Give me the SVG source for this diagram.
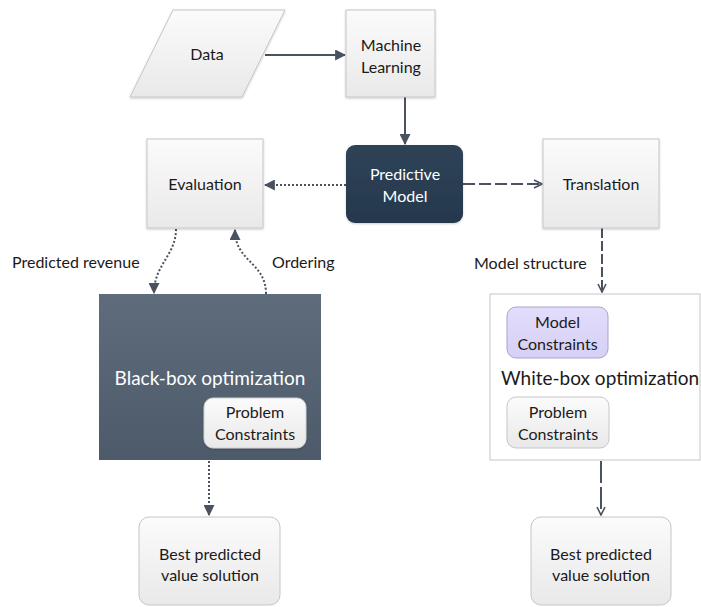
<svg xmlns="http://www.w3.org/2000/svg" width="701" height="607" viewBox="0 0 701 607">
<defs>
<linearGradient id="gGray" x1="0" y1="0" x2="0" y2="1"><stop offset="0" stop-color="#fbfbfb"/><stop offset="1" stop-color="#e9e9e9"/></linearGradient>
<linearGradient id="gBlack" x1="0" y1="0" x2="0" y2="1"><stop offset="0" stop-color="#5e6c7c"/><stop offset="1" stop-color="#4d5a69"/></linearGradient>
<linearGradient id="gNavy" x1="0" y1="0" x2="0" y2="1"><stop offset="0" stop-color="#2f4358"/><stop offset="1" stop-color="#25384c"/></linearGradient>
<linearGradient id="gLav" x1="0" y1="0" x2="0" y2="1"><stop offset="0" stop-color="#e2ddfb"/><stop offset="1" stop-color="#d6d0f5"/></linearGradient>
<marker id="tri" viewBox="0 0 10 10" refX="9" refY="5" markerWidth="11" markerHeight="11" markerUnits="userSpaceOnUse" orient="auto"><path d="M0,0 L10,5 L0,10 Z" fill="#4a5260"/></marker>
<marker id="vee" viewBox="0 0 10 10" refX="9" refY="5" markerWidth="10" markerHeight="10" markerUnits="userSpaceOnUse" orient="auto"><path d="M1,1 L9,5 L1,9" fill="none" stroke="#4a5260" stroke-width="1.6"/></marker>
<filter id="sh" x="-10%" y="-10%" width="125%" height="125%"><feDropShadow dx="0" dy="1" stdDeviation="1" flood-color="#000" flood-opacity="0.2"/></filter>
</defs>
<style>
.box{fill:url(#gGray);stroke:#c6c6c6;stroke-width:1}
.t{font-family:Lato,"Open Sans","Liberation Sans",sans-serif;font-size:16px;fill:#1a1a1a;text-anchor:middle}
.w{fill:#fff}
.big{font-size:19px}
.lbl{font-family:Lato,"Open Sans","Liberation Sans",sans-serif;font-size:16px;fill:#1a1a1a}
.c{fill:none;stroke:#4a5260;stroke-width:2}
.dot{stroke-dasharray:2 2}
.dash{stroke-dasharray:12 4}
.dash2{stroke-dasharray:10 3}
.dash3{stroke-dasharray:22 4}
</style>
<g id="connectors">
<line class="c" x1="265" y1="55" x2="345" y2="55" marker-end="url(#tri)"/>
<line class="c" x1="405" y1="97" x2="405" y2="144" marker-end="url(#tri)"/>
<line class="c dot" x1="346" y1="185" x2="265" y2="185" marker-end="url(#tri)"/>
<line class="c dash" x1="463" y1="184" x2="542" y2="184" marker-end="url(#vee)"/>
<line class="c dash2" x1="602" y1="228" x2="602" y2="292" marker-end="url(#vee)"/>
<path class="c dot" d="M176,229 C176,255 154,265 154,293" marker-end="url(#tri)"/>
<path class="c dot" d="M266,294 C266,262 235,262 235,230" marker-end="url(#tri)"/>
<line class="c dot" x1="209" y1="461" x2="209" y2="515" marker-end="url(#tri)"/>
<line class="c dash3" x1="601" y1="461" x2="601" y2="515" marker-end="url(#vee)"/>
<text class="lbl" x="12" y="268">Predicted revenue</text>
<text class="lbl" x="272" y="268">Ordering</text>
<text class="lbl" x="474" y="269">Model structure</text>
</g>
<g id="data">
<polygon points="173,10 285,10 242,97 130,97" class="box" filter="url(#sh)"/>
<text class="t" x="207" y="60">Data</text>
</g>
<g id="ml">
<rect x="346" y="10" width="89" height="87" class="box" filter="url(#sh)"/>
<text class="t" x="391" y="51">Machine</text>
<text class="t" x="391" y="73">Learning</text>
</g>
<g id="predictive">
<rect x="346" y="145" width="117" height="78" rx="9" fill="url(#gNavy)" filter="url(#sh)"/>
<text class="t w" x="405" y="180">Predictive</text>
<text class="t w" x="405" y="202">Model</text>
</g>
<g id="evaluation">
<rect x="147" y="139" width="116" height="89" class="box" filter="url(#sh)"/>
<text class="t" x="205" y="190">Evaluation</text>
</g>
<g id="translation">
<rect x="543" y="139" width="116" height="89" class="box" filter="url(#sh)"/>
<text class="t" x="601" y="190">Translation</text>
</g>
<g id="blackbox">
<rect x="99" y="294" width="222" height="166" fill="url(#gBlack)"/>
<text class="t w big" x="210" y="385">Black-box optimization</text>
<rect x="204" y="398" width="102" height="50" rx="9" fill="url(#gGray)" stroke="#d0d0d0" filter="url(#sh)"/>
<text class="t" x="255" y="418">Problem</text>
<text class="t" x="255" y="440">Constraints</text>
</g>
<g id="whitebox">
<rect x="490" y="294" width="210" height="166" fill="#fff" stroke="#c6c6c6"/>
<rect x="507" y="307" width="101" height="51" rx="9" fill="url(#gLav)" stroke="#a9a3cf"/>
<text class="t" x="557.5" y="328">Model</text>
<text class="t" x="557.5" y="350">Constraints</text>
<text class="t big" x="600" y="385">White-box optimization</text>
<rect x="507" y="397" width="102" height="51" rx="9" class="box"/>
<text class="t" x="558" y="418">Problem</text>
<text class="t" x="558" y="440">Constraints</text>
</g>
<g id="best-left">
<rect x="139" y="517" width="141" height="88" rx="10" class="box"/>
<text class="t" x="210" y="560">Best predicted</text>
<text class="t" x="210" y="581">value solution</text>
</g>
<g id="best-right">
<rect x="531" y="517" width="140" height="88" rx="10" class="box"/>
<text class="t" x="601" y="560">Best predicted</text>
<text class="t" x="601" y="581">value solution</text>
</g>
</svg>
